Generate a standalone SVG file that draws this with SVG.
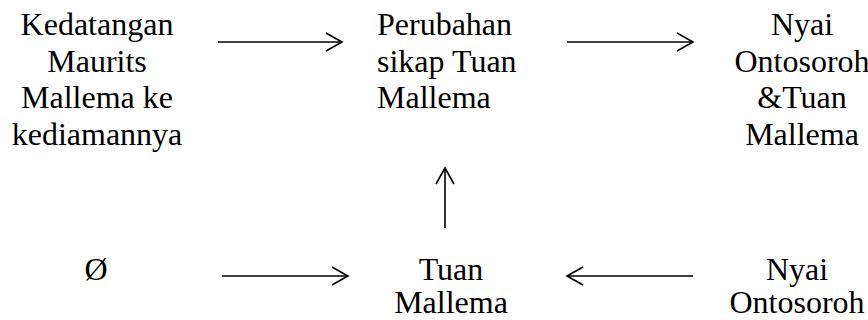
<svg xmlns="http://www.w3.org/2000/svg" width="868" height="320" viewBox="0 0 868 320">
<defs>
<style>
text{font-family:"Liberation Serif","Times New Roman",serif;font-size:32px;fill:#000}
.c{text-anchor:middle}
.l{stroke:#000;stroke-width:1.6;fill:none}
</style>
<marker id="ah" markerWidth="20" markerHeight="20" refX="17" refY="10" orient="auto" markerUnits="userSpaceOnUse" viewBox="0 0 20 20">
<path d="M1,1 L17,10 L1,19" fill="none" stroke="#000" stroke-width="1.6"/>
</marker>
</defs>
<rect width="868" height="320" fill="#fff"/>
<g id="n1"><text class="c" x="97" y="35">Kedatangan</text><text class="c" x="97" y="72">Maurits</text><text class="c" x="97" y="108">Mallema ke</text><text class="c" x="97" y="145">kediamannya</text></g>
<g id="n2"><text x="377" y="35">Perubahan</text><text x="377" y="72">sikap Tuan</text><text x="377" y="108">Mallema</text></g>
<g id="n3"><text class="c" x="802" y="35">Nyai</text><text class="c" x="802" y="72">Ontosoroh</text><text class="c" x="802" y="108">&amp;Tuan</text><text class="c" x="802" y="145">Mallema</text></g>
<g id="n4"><text class="c" x="96" y="280">Ø</text></g>
<g id="n5"><text class="c" x="451" y="280">Tuan</text><text class="c" x="451" y="313">Mallema</text></g>
<g id="n6"><text class="c" x="797" y="280">Nyai</text><text class="c" x="797" y="313">Ontosoroh</text></g>
<g id="connectors">
<line class="l" x1="218" y1="42" x2="342" y2="42" marker-end="url(#ah)"/>
<line class="l" x1="567" y1="42" x2="693" y2="42" marker-end="url(#ah)"/>
<line class="l" x1="445" y1="228" x2="445" y2="168" marker-end="url(#ah)"/>
<line class="l" x1="222" y1="276" x2="348" y2="276" marker-end="url(#ah)"/>
<line class="l" x1="693" y1="276" x2="567" y2="276" marker-end="url(#ah)"/>
</g>
</svg>
